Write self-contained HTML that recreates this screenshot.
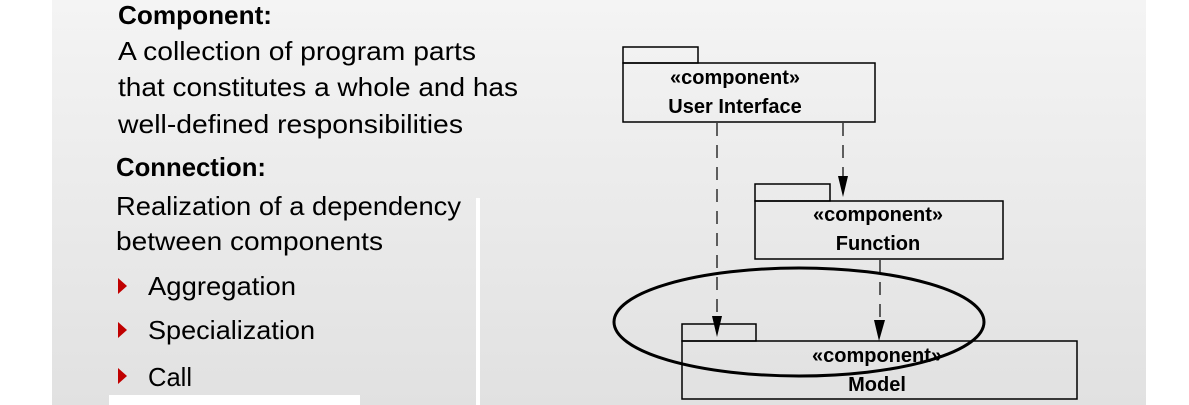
<!DOCTYPE html>
<html><head><meta charset="utf-8"><style>
html,body{margin:0;padding:0;width:1189px;height:405px;overflow:hidden;background:#fff}
svg{display:block}
.t{font-family:"Liberation Sans",sans-serif;font-size:26px;fill:#000}
.d{font-family:"Liberation Sans",sans-serif;font-size:20px;font-weight:bold;fill:#000;text-anchor:middle}
</style></head><body>
<svg width="1189" height="405" viewBox="0 0 1189 405" xmlns="http://www.w3.org/2000/svg">
<defs>
<linearGradient id="g" x1="0" y1="0" x2="0" y2="1">
<stop offset="0" stop-color="#f4f4f4"/><stop offset="1" stop-color="#e1e1e1"/>
</linearGradient>
</defs>
<rect x="52" y="0" width="1094" height="405" fill="url(#g)"/>
<rect x="476" y="198" width="4" height="207" fill="#fff"/>
<rect x="109" y="395" width="251" height="10" fill="#fff"/>

<text class="t" x="118" y="24" font-weight="bold" textLength="154" lengthAdjust="spacingAndGlyphs">Component:</text>
<text class="t" x="118" y="60" textLength="358" lengthAdjust="spacingAndGlyphs">A collection of program parts</text>
<text class="t" x="118" y="96" textLength="400" lengthAdjust="spacingAndGlyphs">that constitutes a whole and has</text>
<text class="t" x="118" y="133" textLength="345" lengthAdjust="spacingAndGlyphs">well-defined responsibilities</text>
<text class="t" x="116" y="176" font-weight="bold" textLength="150" lengthAdjust="spacingAndGlyphs">Connection:</text>
<text class="t" x="116" y="215" textLength="345" lengthAdjust="spacingAndGlyphs">Realization of a dependency</text>
<text class="t" x="116" y="250" textLength="267" lengthAdjust="spacingAndGlyphs">between components</text>
<polygon points="118,278 118,294 127,286" fill="#c00000"/>
<text class="t" x="148" y="295" textLength="148" lengthAdjust="spacingAndGlyphs">Aggregation</text>
<polygon points="118,322 118,338 127,330" fill="#c00000"/>
<text class="t" x="148" y="339" textLength="167" lengthAdjust="spacingAndGlyphs">Specialization</text>
<polygon points="118,368 118,384 127,376" fill="#c00000"/>
<text class="t" x="148" y="386" textLength="44" lengthAdjust="spacingAndGlyphs">Call</text>

<g fill="none" stroke="#000" stroke-width="1.5">
<rect x="623" y="47" width="75" height="16"/>
<rect x="623" y="63" width="252" height="59"/>
<rect x="755" y="184" width="75" height="17"/>
<rect x="755" y="201" width="248" height="58"/>
<rect x="682" y="324" width="74" height="17"/>
<rect x="682" y="341" width="395" height="58"/>
</g>
<g stroke="#000" stroke-width="1.2" stroke-dasharray="13,9">
<line x1="717" y1="123" x2="717" y2="318"/>
<line x1="843" y1="123" x2="843" y2="180"/>
<line x1="880" y1="260" x2="880" y2="322"/>
</g>
<polygon points="712,316 722,316 717,337" fill="#000"/>
<polygon points="838,176 848,176 843,197" fill="#000"/>
<polygon points="874,320 885,320 879,341" fill="#000"/>

<text class="d" x="735" y="84">«component»</text>
<text class="d" x="735" y="113">User Interface</text>
<text class="d" x="878" y="221">«component»</text>
<text class="d" x="878" y="250">Function</text>
<text class="d" x="877" y="362">«component»</text>
<text class="d" x="877" y="391">Model</text>

<ellipse cx="799" cy="322" rx="185" ry="54" fill="none" stroke="#000" stroke-width="3"/>
</svg>
</body></html>
